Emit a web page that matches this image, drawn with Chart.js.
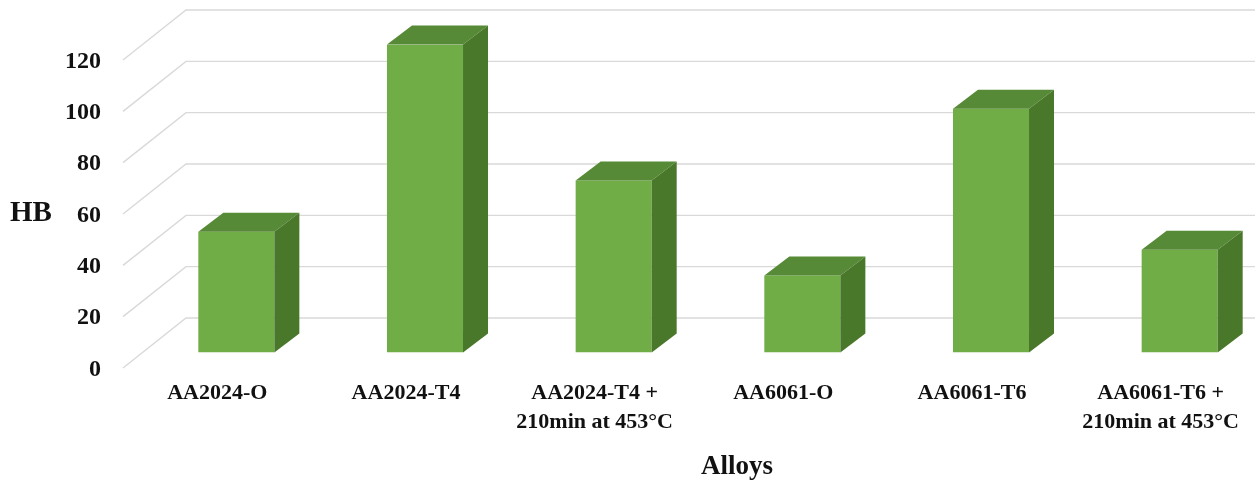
<!DOCTYPE html>
<html>
<head>
<meta charset="utf-8">
<script src="https://cdn.jsdelivr.net/npm/chart.js@4/dist/chart.umd.min.js"></script>
<style>
  html, body { margin: 0; padding: 0; background: #fff; overflow: hidden; width: 1255px; height: 482px; }
  canvas { display: block; }
</style>
</head>
<body>
<canvas id="hb" width="1290" height="482" style="width:1290px;height:482px"></canvas>
<script>
// Brinell hardness of the alloys
const alloys = [
  'AA2024-O',
  'AA2024-T4',
  ['AA2024-T4 +', '210min at 453°C'],
  'AA6061-O',
  'AA6061-T6',
  ['AA6061-T6 +', '210min at 453°C']
];
const hardnessHB = [47, 120, 67, 30, 95, 40];
const hbTicks = [0, 20, 40, 60, 80, 100, 120];

const SERIF = "'Liberation Serif', 'Times New Roman', serif";
const FRONT = '#70AD47';
const TOP = '#568A36';
const SIDE = '#4A782B';
const GRID = '#d9d9d9';

// depth of each box, and of the floor relative to the bar fronts
const BAR_DX = 25, BAR_DY = -19;
const FLOOR_FRONT_DX = -19, FLOOR_FRONT_DY = 15.5;
const WALL_DX = 44, WALL_DY = -34.5;

const depth3d = {
  id: 'depth3d',
  beforeDatasetsDraw(chart) {
    const { ctx, chartArea, scales: { y } } = chart;
    ctx.save();
    ctx.strokeStyle = GRID;
    ctx.lineWidth = 1.4;
    y.ticks.forEach(t => {
      const py = y.getPixelForValue(t.value);
      ctx.beginPath();
      ctx.moveTo(chartArea.left + FLOOR_FRONT_DX, py + FLOOR_FRONT_DY);
      ctx.lineTo(chartArea.left + WALL_DX, py + WALL_DY);
      ctx.lineTo(chart.width, py + WALL_DY);
      ctx.stroke();
    });
    // axis names
    ctx.fillStyle = '#111';
    ctx.textAlign = 'center';
    ctx.textBaseline = 'middle';
    ctx.font = 'bold 29px ' + SERIF;
    ctx.fillText('HB', 31, y.getPixelForValue(60) + FLOOR_FRONT_DY);
    ctx.font = 'bold 27px ' + SERIF;
    ctx.fillText('Alloys', 737, 467);
    ctx.restore();
  },
  afterDatasetsDraw(chart) {
    const { ctx } = chart;
    ctx.save();
    chart.getDatasetMeta(0).data.forEach(bar => {
      const { x, y, base, width } = bar.getProps(['x', 'y', 'base', 'width'], true);
      const l = x - width / 2, r = x + width / 2;
      ctx.fillStyle = TOP;
      ctx.beginPath();
      ctx.moveTo(l, y);
      ctx.lineTo(l + BAR_DX, y + BAR_DY);
      ctx.lineTo(r + BAR_DX, y + BAR_DY);
      ctx.lineTo(r, y);
      ctx.closePath();
      ctx.fill();
      ctx.fillStyle = SIDE;
      ctx.beginPath();
      ctx.moveTo(r, y);
      ctx.lineTo(r + BAR_DX, y + BAR_DY);
      ctx.lineTo(r + BAR_DX, base + BAR_DY);
      ctx.lineTo(r, base);
      ctx.closePath();
      ctx.fill();
    });
    ctx.restore();
  }
};

new Chart(document.getElementById('hb'), {
  type: 'bar',
  data: {
    labels: alloys,
    datasets: [{
      data: hardnessHB,
      backgroundColor: FRONT,
      borderWidth: 0,
      categoryPercentage: 1,
      barPercentage: 0.403
    }]
  },
  options: {
    responsive: false,
    animation: false,
    layout: { padding: { top: 44.5, right: 16, left: 0, bottom: 0 } },
    plugins: { legend: { display: false }, tooltip: { enabled: false } },
    scales: {
      x: {
        grid: { display: false, drawTicks: false },
        border: { display: false },
        ticks: {
          color: '#111',
          font: { family: SERIF, size: 22, weight: 'bold', lineHeight: 1.32 },
          padding: 26,
          labelOffset: FLOOR_FRONT_DX,
          maxRotation: 0,
          autoSkip: false
        },
        afterFit(scale) { scale.height = 129.5; }
      },
      y: {
        min: hbTicks[0],
        max: hbTicks[hbTicks.length - 1],
        grid: { display: false, drawTicks: false },
        border: { display: false },
        afterBuildTicks(scale) { scale.ticks = hbTicks.map(v => ({ value: v })); },
        ticks: {
          color: '#111',
          font: { family: SERIF, size: 24, weight: 'bold' },
          padding: 41,
          labelOffset: 17
        },
        afterFit(scale) {
          scale.width = 142;
          scale.paddingTop = 0;
          scale.paddingBottom = 0;
        }
      }
    }
  },
  plugins: [depth3d]
});
</script>
</body>
</html>
